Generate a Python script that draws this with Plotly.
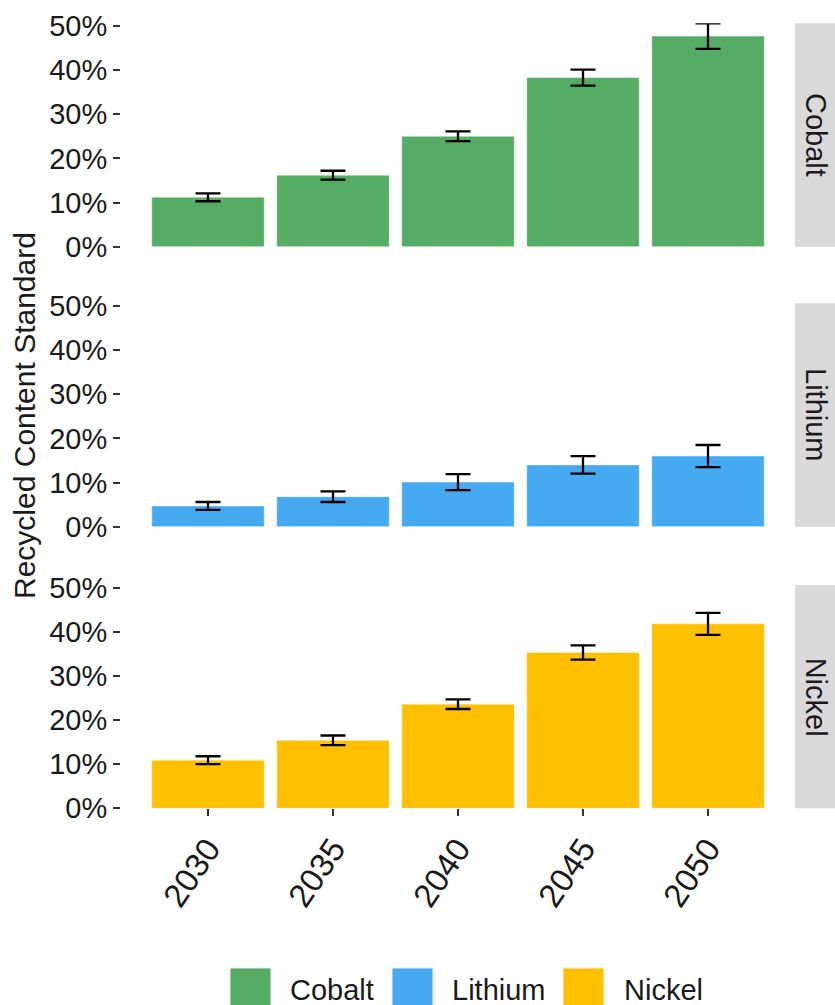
import plotly.graph_objects as go

# Recycled content standard by metal and target year (percent, with uncertainty)
years = ["2030", "2035", "2040", "2045", "2050"]
metals = ["Cobalt", "Lithium", "Nickel"]

cobalt = [11.2, 16.2, 25.0, 38.3, 47.7]
cobalt_err = [0.9, 1.0, 1.1, 1.8, 2.9]

lithium = [4.7, 6.8, 10.1, 14.0, 16.0]
lithium_err = [0.9, 1.2, 1.8, 2.0, 2.5]

nickel = [10.9, 15.4, 23.6, 35.3, 41.8]
nickel_err = [0.9, 1.1, 1.1, 1.6, 2.5]

y_ticks = [0, 10, 20, 30, 40, 50]
y_tick_text = ["0%", "10%", "20%", "30%", "40%", "50%"]

colors = {"Cobalt": "#55AC64", "Lithium": "#45AAF2", "Nickel": "#FFC000"}
series = {
    "Cobalt": (cobalt, cobalt_err),
    "Lithium": (lithium, lithium_err),
    "Nickel": (nickel, nickel_err),
}

W, H = 835, 1005
FONT = "Liberation Sans, Arial, Helvetica, sans-serif"
TXT = "#1A1A1A"

# panel geometry (pixels from top-left)
px_left, px_right = 121, 795
panels_px = {"Cobalt": (23.3, 246.7), "Lithium": (303.3, 526.7), "Nickel": (585.0, 808.3)}


def ydom(top, bottom):
    return [1 - bottom / H, 1 - top / H]


fig = go.Figure()

for i, m in enumerate(metals):
    vals, errs = series[m]
    ax = "" if i == 0 else str(i + 1)
    fig.add_trace(go.Bar(
        x=years, y=vals,
        xaxis="x" + ax, yaxis="y" + ax,
        width=0.9,
        marker=dict(color=colors[m], line=dict(color="rgba(255,255,255,0.55)", width=0.8)),
        error_y=dict(type="data", array=errs, visible=True, color="black",
                     thickness=2.3, width=12.5),
        showlegend=False, name=m,
        hoverinfo="x+y",
    ))

xr = [-0.696, 4.696]
yr = [0, 50.6]
layout = dict(
    width=W, height=H,
    margin=dict(l=0, r=0, t=0, b=0, autoexpand=False),
    paper_bgcolor="white", plot_bgcolor="white",
    bargap=0.1,
    font=dict(family=FONT, color=TXT),
)

for i, m in enumerate(metals):
    ax = "" if i == 0 else str(i + 1)
    top, bottom = panels_px[m]
    last = i == len(metals) - 1
    layout["xaxis" + ax] = dict(
        domain=[px_left / W, px_right / W], range=xr, anchor="y" + ax,
        type="category", showgrid=False, zeroline=False, showline=False,
        automargin=False,
        showticklabels=last,
        ticks="outside" if last else "", ticklen=7, tickwidth=1.5, tickcolor="#333333",
        tickangle=-56, tickfont=dict(size=33, color=TXT, family=FONT),
        matches=None if i == 0 else "x",
    )
    layout["yaxis" + ax] = dict(
        domain=ydom(top, bottom), range=yr, anchor="x" + ax,
        tickvals=y_ticks, ticktext=y_tick_text,
        showgrid=False, zeroline=False, showline=False,
        automargin=False,
        ticks="outside", ticklen=7, tickwidth=1.5, tickcolor="#333333",
        tickfont=dict(size=29, color=TXT, family=FONT),
        ticklabelstandoff=0,
    )

shapes = []
annotations = []
# facet strips on the right
for m in metals:
    top, bottom = panels_px[m]
    shapes.append(dict(type="rect", xref="paper", yref="paper",
                       x0=795 / W, x1=1.0, y0=1 - bottom / H, y1=1 - top / H,
                       fillcolor="#D9D9D9", line=dict(width=0), layer="below"))
    annotations.append(dict(xref="paper", yref="paper", x=816 / W, y=1 - (top + bottom) / 2 / H,
                            text=m, textangle=90, showarrow=False,
                            font=dict(size=29, color=TXT, family=FONT),
                            xanchor="center", yanchor="middle"))

# y-axis title
annotations.append(dict(xref="paper", yref="paper", x=24 / W, y=1 - 416 / H,
                        text="Recycled Content Standard", textangle=-90, showarrow=False,
                        font=dict(size=30, color=TXT, family=FONT),
                        xanchor="center", yanchor="middle"))

# legend keys along the bottom
legend_items = [("Cobalt", 230, 288), ("Lithium", 392, 450), ("Nickel", 563, 622)]
for name, kx, tx in legend_items:
    shapes.append(dict(type="rect", xref="paper", yref="paper",
                       x0=kx / W, x1=(kx + 41) / W, y0=1 - 1009 / H, y1=1 - 968 / H,
                       fillcolor=colors[name], line=dict(color="#F2F2F2", width=1)))
    annotations.append(dict(xref="paper", yref="paper", x=tx / W, y=1 - 990 / H,
                            text=name, showarrow=False,
                            font=dict(size=29, color=TXT, family=FONT),
                            xanchor="left", yanchor="middle"))

layout["shapes"] = shapes
layout["annotations"] = annotations
fig.update_layout(**layout)

fig.write_html("out.html")
